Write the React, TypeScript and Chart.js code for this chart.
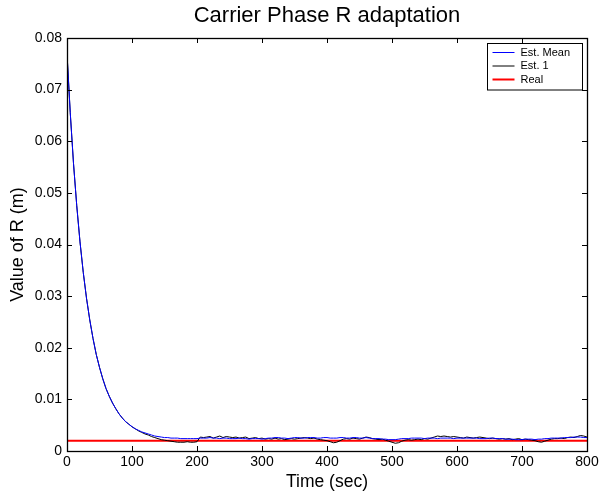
import React, { useEffect, useRef } from "react";
import { Chart, registerables } from "chart.js";

Chart.register(...registerables);

const TITLE = "Carrier Phase R adaptation";
const X_LABEL = "Time (sec)";
const Y_LABEL = "Value of R (m)";
const FONT = "'Liberation Sans', Arial, Helvetica, sans-serif";

// sample spacing of the estimator series (seconds)
const TIME_STEP = 5;

// Est. Mean, t = 0, 5, 10, ... 800 s
const estMean = [
  0.0770, 0.0655, 0.0557, 0.0475, 0.0405, 0.0346, 0.0296, 0.0254, 0.0218, 0.0187,
  0.0162, 0.0140, 0.0121, 0.0106, 0.0093, 0.0082, 0.0072, 0.0064, 0.0057, 0.0052,
  0.0047, 0.0043, 0.0040, 0.0037, 0.0035, 0.0033, 0.0031, 0.0029, 0.0028, 0.0027,
  0.0026,
  0.0026, 0.0025, 0.0025, 0.0025, 0.0024, 0.0024, 0.0024, 0.0024, 0.0024, 0.0024,
  0.0025, 0.0025, 0.0025, 0.0026, 0.0025, 0.0025, 0.0024, 0.0025, 0.0025, 0.0024,
  0.0024, 0.0024, 0.0025, 0.0024, 0.0024, 0.0023, 0.0024, 0.0024, 0.0024, 0.0023,
  0.0024, 0.0025, 0.0025, 0.0026, 0.0026, 0.0025, 0.0025, 0.0024, 0.0025, 0.0026,
  0.0026, 0.0025, 0.0025, 0.0026, 0.0026, 0.0026, 0.0025, 0.0025, 0.0026, 0.0026,
  0.0025, 0.0025, 0.0025, 0.0026, 0.0026, 0.0025, 0.0025, 0.0026, 0.0026, 0.0025,
  0.0025, 0.0026, 0.0025, 0.0024, 0.0024, 0.0024, 0.0023, 0.0023, 0.0022, 0.0022,
  0.0022, 0.0023, 0.0024, 0.0024, 0.0024, 0.0025, 0.0025, 0.0025, 0.0025, 0.0024,
  0.0025, 0.0025, 0.0025, 0.0024, 0.0025, 0.0025, 0.0025, 0.0025, 0.0024, 0.0025,
  0.0025, 0.0025, 0.0025, 0.0025, 0.0025, 0.0025, 0.0024, 0.0024, 0.0024, 0.0025,
  0.0025, 0.0024, 0.0024, 0.0024, 0.0023, 0.0023, 0.0023, 0.0022, 0.0022, 0.0022,
  0.0023, 0.0023, 0.0023, 0.0022, 0.0023, 0.0023, 0.0024, 0.0024, 0.0025, 0.0025,
  0.0025, 0.0025, 0.0026, 0.0026, 0.0026, 0.0027, 0.0027, 0.0027, 0.0026, 0.0026,
];

// Est. 1, t = 0, 5, 10, ... 800 s
const est1 = [
  0.0770, 0.0655, 0.0557, 0.0475, 0.0405, 0.0346, 0.0296, 0.0254, 0.0218, 0.0187,
  0.0162, 0.0140, 0.0121, 0.0106, 0.0093, 0.0082, 0.0072, 0.0064, 0.0057, 0.0052,
  0.0047, 0.0043, 0.0039, 0.0036, 0.0033, 0.0031, 0.0028, 0.0026, 0.0024, 0.0022,
  0.0021,
  0.0020, 0.0019, 0.0018, 0.0017, 0.0017, 0.0017, 0.0018, 0.0017, 0.0017, 0.0018,
  0.0027, 0.0026, 0.0027, 0.0028, 0.0025, 0.0027, 0.0029, 0.0026, 0.0028, 0.0027,
  0.0026, 0.0027, 0.0025, 0.0026, 0.0027, 0.0024, 0.0025, 0.0026, 0.0024, 0.0025,
  0.0023, 0.0024, 0.0023, 0.0025, 0.0023, 0.0024, 0.0022, 0.0023, 0.0024, 0.0023,
  0.0024, 0.0025, 0.0026, 0.0025, 0.0024, 0.0025, 0.0023, 0.0022, 0.0021, 0.0020,
  0.0018, 0.0016, 0.0017, 0.0020, 0.0023, 0.0024, 0.0023, 0.0025, 0.0024, 0.0023,
  0.0025, 0.0027, 0.0026, 0.0024, 0.0023, 0.0022, 0.0023, 0.0021, 0.0019, 0.0017,
  0.0015, 0.0016, 0.0019, 0.0021, 0.0022, 0.0021, 0.0022, 0.0023, 0.0022, 0.0024,
  0.0023, 0.0025, 0.0027, 0.0029, 0.0028, 0.0029, 0.0028, 0.0027, 0.0028, 0.0027,
  0.0026, 0.0025, 0.0027, 0.0026, 0.0025, 0.0026, 0.0027, 0.0026, 0.0025, 0.0024,
  0.0025, 0.0024, 0.0023, 0.0024, 0.0023, 0.0024, 0.0022, 0.0023, 0.0024, 0.0022,
  0.0023, 0.0022, 0.0021, 0.0020, 0.0018, 0.0017, 0.0019, 0.0021, 0.0023, 0.0024,
  0.0024, 0.0025, 0.0024, 0.0026, 0.0027, 0.0026, 0.0028, 0.0030, 0.0029, 0.0027,
];

// Real value (constant)
const realTimes = [0, 800];
const realValues = [0.002, 0.002];

const X_MIN = 0;
const X_MAX = 800;
const X_STEP = 100;
const Y_MIN = 0;
const Y_MAX = 0.08;
const Y_STEP = 0.01;

const SERIES_LABELS = ["Est. Mean", "Est. 1", "Real"];
const SERIES_COLORS = ["#0000ff", "#000000", "#ff0000"];
const SERIES_WIDTHS = [1, 1, 2];

const framePlugin = {
  id: "matlabFrame",
  afterDatasetsDraw(chart: any) {
    const { ctx, chartArea } = chart;
    const { left, right, top, bottom } = chartArea;
    const xs = chart.scales.x;
    const ys = chart.scales.y;
    const TL = 5;
    ctx.save();
    ctx.strokeStyle = "#000";
    ctx.lineWidth = 1;
    ctx.beginPath();
    xs.ticks.forEach((t: any) => {
      const px = Math.round(xs.getPixelForValue(t.value)) + 0.5;
      ctx.moveTo(px, bottom);
      ctx.lineTo(px, bottom - TL);
      ctx.moveTo(px, top);
      ctx.lineTo(px, top + TL);
    });
    ys.ticks.forEach((t: any) => {
      const py = Math.round(ys.getPixelForValue(t.value)) + 0.5;
      ctx.moveTo(left, py);
      ctx.lineTo(left + TL, py);
      ctx.moveTo(right, py);
      ctx.lineTo(right - TL, py);
    });
    ctx.stroke();
    ctx.lineWidth = 1.3;
    ctx.strokeRect(Math.round(left) + 0.5, Math.round(top) + 0.5, Math.round(right - left), Math.round(bottom - top));

    // legend box (top-right inside axes)
    const ds = chart.data.datasets;
    const boxW = 95;
    const rowH = 13.5;
    const boxH = 6 + rowH * ds.length;
    const bx = Math.round(right - 5 - boxW) + 0.5;
    const by = Math.round(top + 5) + 0.5;
    ctx.fillStyle = "#fff";
    ctx.fillRect(bx, by, boxW, boxH);
    ctx.strokeStyle = "#000";
    ctx.lineWidth = 1;
    ctx.strokeRect(bx, by, boxW, boxH);
    ctx.font = `11px ${FONT}`;
    ctx.textBaseline = "middle";
    ctx.textAlign = "left";
    ds.forEach((d: any, i: number) => {
      const cy = by + 9 + rowH * i;
      ctx.strokeStyle = d.borderColor;
      ctx.lineWidth = d.borderWidth;
      ctx.beginPath();
      ctx.moveTo(bx + 5, cy);
      ctx.lineTo(bx + 27, cy);
      ctx.stroke();
      ctx.fillStyle = "#000";
      ctx.fillText(d.label, bx + 33, cy);
    });
    ctx.restore();
  },
};

export default function App() {
  const canvasRef = useRef<HTMLCanvasElement | null>(null);

  useEffect(() => {
    if (!canvasRef.current) return;
    const toPoints = (vals: number[]) => vals.map((v, i) => ({ x: i * TIME_STEP, y: v }));
    const realPoints = realTimes.map((t, i) => ({ x: t, y: realValues[i] }));
    const seriesData = [toPoints(estMean), toPoints(est1), realPoints];

    const chart = new Chart(canvasRef.current, {
      type: "line",
      data: {
        datasets: seriesData.map((data, i) => ({
          label: SERIES_LABELS[i],
          data,
          borderColor: SERIES_COLORS[i],
          backgroundColor: SERIES_COLORS[i],
          borderWidth: SERIES_WIDTHS[i],
          pointRadius: 0,
          tension: 0,
          fill: false,
        })),
      },
      options: {
        responsive: false,
        animation: false,
        events: [],
        layout: { padding: { top: 0, right: 24, bottom: 0, left: 0 } },
        plugins: {
          legend: { display: false },
          tooltip: { enabled: false },
          title: {
            display: true,
            text: TITLE,
            fullSize: false,
            color: "#000",
            font: { family: FONT, size: 22, weight: "normal" },
            padding: { top: 3, bottom: 8.6 },
          },
        },
        scales: {
          x: {
            type: "linear",
            min: X_MIN,
            max: X_MAX,
            grid: { display: false, drawTicks: false },
            border: { display: false },
            ticks: {
              stepSize: X_STEP,
              color: "#000",
              padding: 3,
              maxRotation: 0,
              font: { family: FONT, size: 14 },
              callback: (v: any) => String(v),
            },
            title: {
              display: true,
              text: X_LABEL,
              color: "#000",
              font: { family: FONT, size: 17.5, lineHeight: 1 },
              padding: { top: 0, bottom: 0 },
            },
            afterFit: (s: any) => {
              s.height = 40;
            },
          },
          y: {
            type: "linear",
            min: Y_MIN,
            max: Y_MAX,
            grid: { display: false, drawTicks: false },
            border: { display: false },
            ticks: {
              stepSize: Y_STEP,
              color: "#000",
              padding: 5,
              font: { family: FONT, size: 14 },
              callback: (v: any) => (Math.abs(v) < 1e-9 ? "0" : Number(v).toFixed(2)),
            },
            title: {
              display: true,
              text: Y_LABEL,
              color: "#000",
              font: { family: FONT, size: 18, lineHeight: 1 },
              padding: { top: 9, bottom: 0 },
            },
            afterFit: (s: any) => {
              s.width = 67;
            },
          },
        },
      },
      plugins: [framePlugin],
    });
    return () => chart.destroy();
  }, []);

  return (
    <div style={{ position: "fixed", left: 0, top: 0, width: 611, height: 491, background: "#fff" }}>
      <canvas ref={canvasRef} width={611} height={491} />
    </div>
  );
}
